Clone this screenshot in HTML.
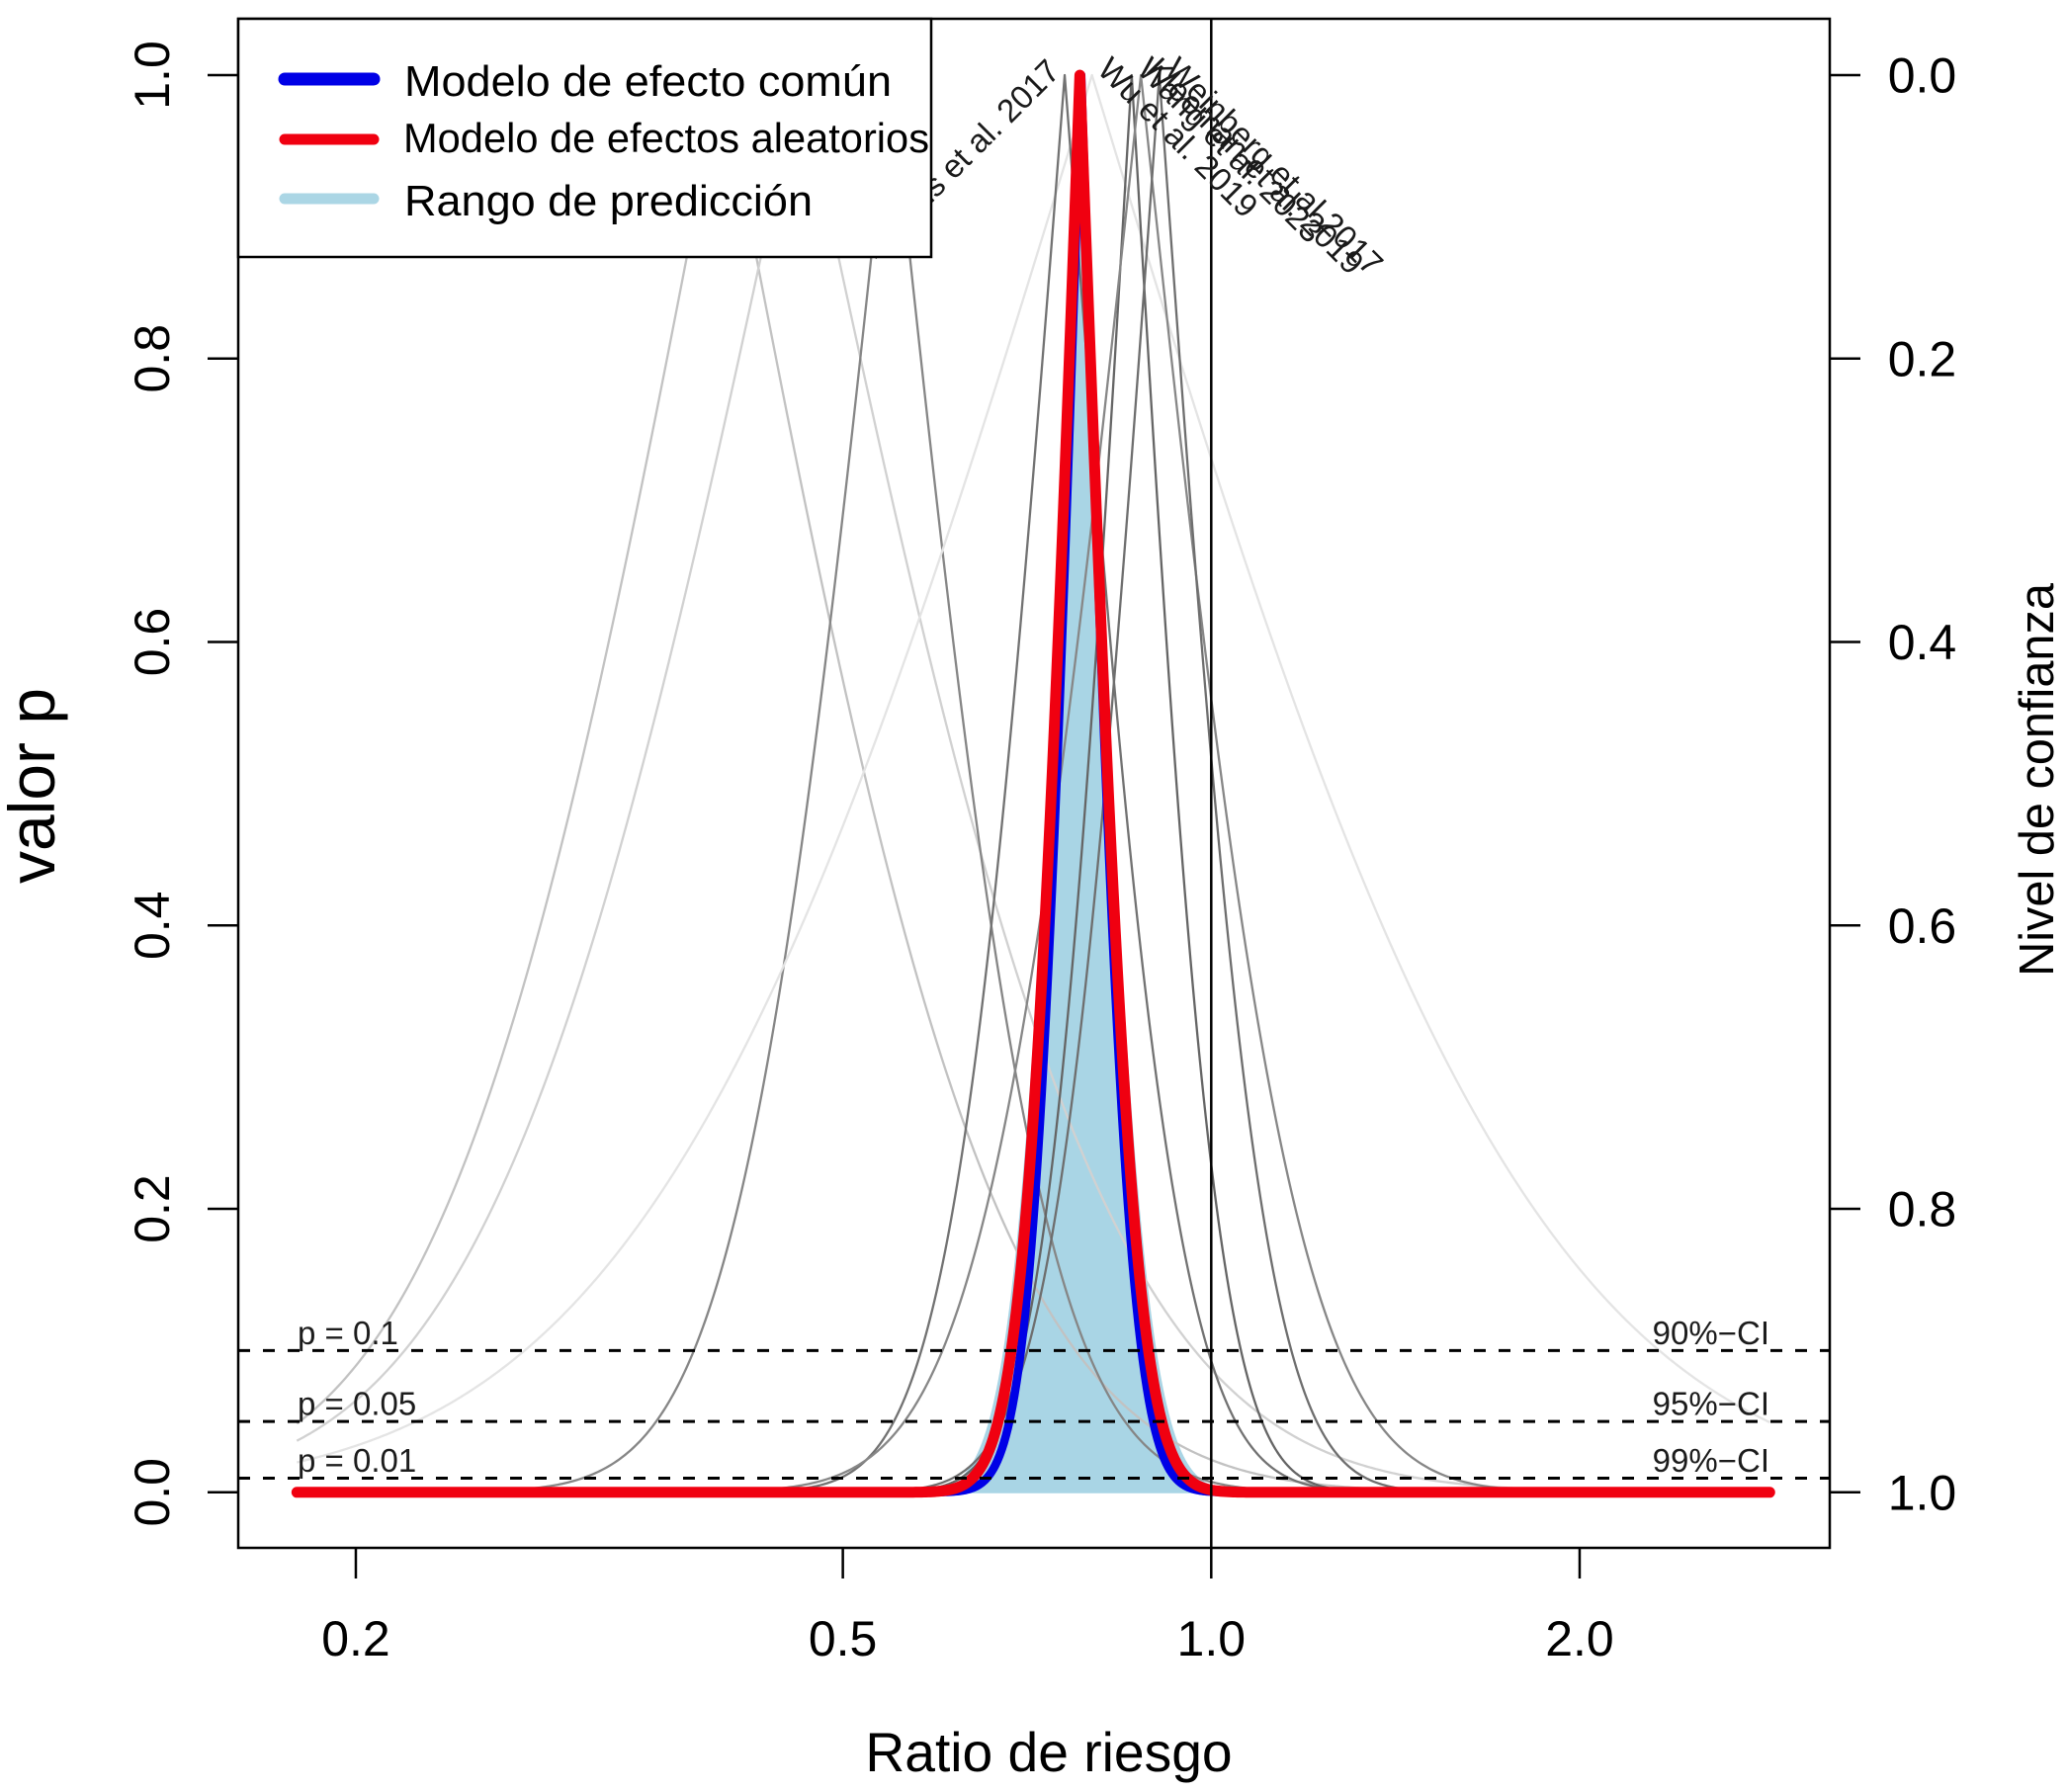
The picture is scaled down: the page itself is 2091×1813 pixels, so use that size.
<!DOCTYPE html>
<html lang="es">
<head>
<meta charset="utf-8">
<title>Gráfico de valor p frente a ratio de riesgo</title>
<style>
html,body{margin:0;padding:0;background:#fff;width:2091px;height:1813px;overflow:hidden}
svg{display:block}
text{font-family:"Liberation Sans",Arial,sans-serif;fill:#000}
</style>
</head>
<body>
<svg id="chart" xmlns="http://www.w3.org/2000/svg" width="2091" height="1813" viewBox="0 0 2091 1813">
  <rect x="0" y="0" width="2091" height="1813" fill="#fff"/>
  <g id="fillLayer"></g>
  <g id="studyLayer"></g>
  <g id="summaryLayer"></g>
  <g id="refLayer"></g>
  <g id="labelLayer"></g>
  <rect x="241" y="19" width="1610" height="1547" fill="none" stroke="#000" stroke-width="2.5"/>
  <g id="axisLayer"></g>

  <text x="1061" y="1792" font-size="55.2" text-anchor="middle">Ratio de riesgo</text>
  <text transform="translate(55,795) rotate(-90)" font-size="66" text-anchor="middle">valor p</text>
  <text transform="translate(2077,789) rotate(-90)" font-size="48.7" text-anchor="middle">Nivel de confianza</text>

  <g>
    <rect x="241" y="19" width="701" height="241" fill="#fff" stroke="#000" stroke-width="2.5"/>
    <line x1="288" y1="80" x2="378" y2="80" stroke="#0000e6" stroke-width="13" stroke-linecap="round"/>
    <text x="409" y="97" font-size="44" textLength="493" lengthAdjust="spacingAndGlyphs">Modelo de efecto común</text>
    <line x1="288" y1="141" x2="378" y2="141" stroke="#f00010" stroke-width="11" stroke-linecap="round"/>
    <text x="408" y="154" font-size="42" textLength="532" lengthAdjust="spacingAndGlyphs">Modelo de efectos aleatorios</text>
    <line x1="288" y1="201" x2="378" y2="201" stroke="#abd6e5" stroke-width="11" stroke-linecap="round"/>
    <text x="409" y="218" font-size="44" textLength="413" lengthAdjust="spacingAndGlyphs">Rango de predicción</text>
  </g>
</svg>
<script>
// ---- chart data ----
const xTickValues = [0.2, 0.5, 1, 2];
const xTickLabels = ["0.2", "0.5", "1.0", "2.0"];
const pTickValues = [0, 0.2, 0.4, 0.6, 0.8, 1];
const pTickLabels = ["0.0", "0.2", "0.4", "0.6", "0.8", "1.0"];
const confTickValues = [0, 0.2, 0.4, 0.6, 0.8, 1];
const confTickLabels = ["0.0", "0.2", "0.4", "0.6", "0.8", "1.0"];
const refPValues = [0.1, 0.05, 0.01];
const refPLabels = ["p = 0.1", "p = 0.05", "p = 0.01"];
const refCILabels = ["90%\u2212CI", "95%\u2212CI", "99%\u2212CI"];
const curveRangeRR = [0.179, 2.86];
// study estimates (risk ratio at the curve peak) and standard errors of log RR
const studyKeys = ["a", "b", "c", "d", "e", "f", "g", "h"];
const studyNames = ["", "", "", "Wu et al. 2019", "Adams et al. 2017", "Wang et al. 2023", "Kleeman et al. 2019", "Weinberg et al 2017"];
const studyEstimates = [0.398, 0.461, 0.547, 0.799, 0.759, 0.861, 0.876, 0.907];
const studySE = [0.405, 0.452, 0.225, 0.649, 0.164, 0.125, 0.227, 0.151];
// pooled estimates
const commonEstimate = [0.783];
const commonSE = [0.069];
const randomEstimate = [0.781];
const randomSE = [0.0785];
const predictionEstimate = [0.781];
const predictionSE = [0.0865];

// ---- axis functions ----
function sx(rr) { return 1225.3 + 1238 * Math.log10(rr); }
function sy(p) { return 1509.8 - 1433.8 * p; }

function normCdf(z) {
  const t = 1 / (1 + 0.2316419 * z);
  const d = 0.3989422804 * Math.exp(-z * z / 2);
  const q = d * t * (0.31938153 + t * (-0.356563782 + t * (1.781477937 + t * (-1.821255978 + t * 1.330274429))));
  return 1 - q;
}
function pValue(rr, est, se) {
  const z = Math.abs(Math.log(rr) - Math.log(est)) / se;
  if (z < 1e-9) return 1;
  return Math.max(0, 2 * (1 - normCdf(z)));
}
function curvePoints(est, se) {
  const pts = [];
  const n = 700;
  const lo = Math.log(curveRangeRR[0]);
  const hi = Math.log(curveRangeRR[1]);
  let inserted = false;
  for (let i = 0; i <= n; i++) {
    const rr = Math.exp(lo + (hi - lo) * i / n);
    if (!inserted && rr >= est) {
      pts.push(sx(est).toFixed(2) + "," + sy(1).toFixed(2));
      inserted = true;
    }
    pts.push(sx(rr).toFixed(2) + "," + sy(pValue(rr, est, se)).toFixed(2));
  }
  return pts;
}
const NS = "http://www.w3.org/2000/svg";
function mk(tag, parent, attrs, txt) {
  const el = document.createElementNS(NS, tag);
  for (const k in attrs) el.setAttribute(k, attrs[k]);
  if (txt !== undefined) el.textContent = txt;
  parent.appendChild(el);
  return el;
}
const fillLayer = document.getElementById("fillLayer");
const studyLayer = document.getElementById("studyLayer");
const summaryLayer = document.getElementById("summaryLayer");
const refLayer = document.getElementById("refLayer");
const labelLayer = document.getElementById("labelLayer");
const axisLayer = document.getElementById("axisLayer");

// prediction range fill
{
  const pts = curvePoints(predictionEstimate[0], predictionSE[0]);
  const poly = mk("polygon", fillLayer, {
    points: sx(curveRangeRR[0]).toFixed(2) + "," + sy(0).toFixed(2) + " " + pts.join(" ") + " " + sx(curveRangeRR[1]).toFixed(2) + "," + sy(0).toFixed(2),
    fill: "#a9d5e5", stroke: "#a9d5e5", "stroke-width": 2
  });
  
  
}

// study curves (lighter grey for less precise studies)
studyEstimates.forEach(function (est, i) {
  const se = studySE[i];
  const g = Math.round(Math.min(228, 60 + 330 * se));
  const line = mk("polyline", studyLayer, {
    points: curvePoints(est, se).join(" "),
    fill: "none", stroke: "rgb(" + g + "," + g + "," + g + ")", "stroke-width": 2.3, "stroke-linejoin": "round"
  });
  
  
});

// summary curves
{
  const blue = mk("polyline", summaryLayer, {
    points: curvePoints(commonEstimate[0], commonSE[0]).join(" "),
    fill: "none", stroke: "#0000e6", "stroke-width": 8.5, "stroke-linejoin": "round", "stroke-linecap": "round"
  });
  
  
  const red = mk("polyline", summaryLayer, {
    points: curvePoints(randomEstimate[0], randomSE[0]).join(" "),
    fill: "none", stroke: "#f00010", "stroke-width": 11, "stroke-linejoin": "round", "stroke-linecap": "round"
  });
  
  
}

// reference lines and their labels
refPValues.forEach(function (p, i) {
  const y = sy(p);
  const ln = mk("line", refLayer, { x1: 241, x2: 1851, y1: y, y2: y, stroke: "#000", "stroke-width": 3, "stroke-dasharray": "12 13" });
  
  
  const a = mk("text", refLayer, { x: 301, y: y - 6.5, "font-size": 33, style: "fill:#1c1c1c" }, refPLabels[i]);
  
  
  const b = mk("text", refLayer, { x: 1790, y: y - 6.5, "font-size": 33, "text-anchor": "end", style: "fill:#1c1c1c" }, refCILabels[i]);
  
  
});

// vertical no-effect line
{
  const v = mk("line", refLayer, { x1: sx(1), x2: sx(1), y1: 19, y2: 1566, stroke: "#000", "stroke-width": 2.5 });
  
  
}

// study labels
studyNames.forEach(function (name, i) {
  if (!name) return;
  const left = studyEstimates[i] < randomEstimate[0];
  const x = sx(studyEstimates[i]) + (left ? -3 : 4);
  const y = left ? sy(1) - 2 : sy(1) - 4;
  const t = mk("text", labelLayer, {
    transform: "translate(" + x.toFixed(2) + "," + y.toFixed(2) + ") rotate(" + (left ? -45 : 45) + ")",
    "font-size": 33, "text-anchor": left ? "end" : "start", style: "fill:#1a1a1a"
  }, name);
  
  
});

// x axis
xTickValues.forEach(function (v, i) {
  const x = sx(v);
  const tick = mk("line", axisLayer, { x1: x, x2: x, y1: 1566, y2: 1597, stroke: "#000", "stroke-width": 2.5 });
  
  
  const t = mk("text", axisLayer, { x: x, y: 1675, "font-size": 50, "text-anchor": "middle" }, xTickLabels[i]);
  
  
});

// left p-value axis
pTickValues.forEach(function (v, i) {
  const y = sy(v);
  const tick = mk("line", axisLayer, { x1: 210, x2: 241, y1: y, y2: y, stroke: "#000", "stroke-width": 2.5 });
  
  
  const t = mk("text", axisLayer, { transform: "translate(171," + y.toFixed(2) + ") rotate(-90)", "font-size": 50, "text-anchor": "middle" }, pTickLabels[i]);
  
  
});

// right confidence axis
confTickValues.forEach(function (v, i) {
  const y = sy(1 - v);
  const tick = mk("line", axisLayer, { x1: 1851, x2: 1882, y1: y, y2: y, stroke: "#000", "stroke-width": 2.5 });
  
  
  const t = mk("text", axisLayer, { x: 1944.5, y: y + 17.5, "font-size": 50, "text-anchor": "middle" }, confTickLabels[i]);
  
  
});
</script>
</body>
</html>
